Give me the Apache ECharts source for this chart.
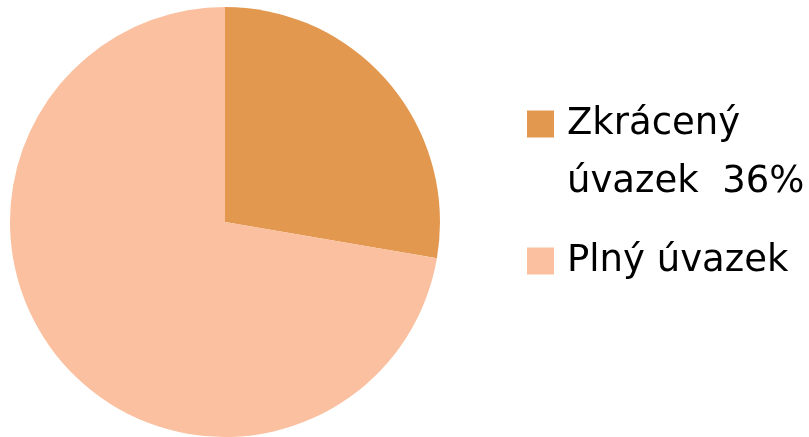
<!DOCTYPE html>
<html lang="cs">
<head>
    <meta charset="UTF-8">
    <title>Úvazky</title>
    <script type="text/javascript" src="https://cdn.jsdelivr.net/npm/echarts@6/dist/echarts.min.js"></script>
    <style>
        html, body { margin: 0; padding: 0; background: #fff; }
    </style>
</head>
<body>
<div id="pie_chart" style="height:437px;width:809px;"></div>
</body>

<script type="text/javascript">
// data
var names = ['Zkrácený\núvazek  36%', 'Plný úvazek'];
var values = [27.7, 72.3];
var colors = ['#E39850', '#FAC09F'];

var chartDom = document.getElementById('pie_chart');
var myChart = echarts.init(chartDom);

var pieData = [];
for (var i = 0; i < names.length; i++) {
    pieData.push({ name: names[i], value: values[i], itemStyle: { color: colors[i] } });
}

var option = {
    animation: false,
    legend: {
        orient: 'vertical',
        left: 527,
        top: 33,
        padding: 0,
        icon: 'rect',
        itemWidth: 27,
        itemHeight: 27,
        itemGap: 13,
        selectedMode: false,
        // empty first line so the marker sits beside the first text line
        formatter: function (name) {
            return name.indexOf('\n') >= 0 ? '\n' + name : name;
        },
        textStyle: {
            fontFamily: 'DejaVu Sans',
            fontSize: 37,
            color: '#000',
            lineHeight: 58,
            padding: [8, 0, 0, 8]
        }
    },
    series: [
        {
            type: 'pie',
            center: [225, 222],
            radius: 215,
            startAngle: 90,
            clockwise: true,
            label: { show: false },
            labelLine: { show: false },
            emphasis: { disabled: true },
            itemStyle: { borderWidth: 0 },
            data: pieData
        }
    ]
};

myChart.setOption(option);
</script>
</html>
